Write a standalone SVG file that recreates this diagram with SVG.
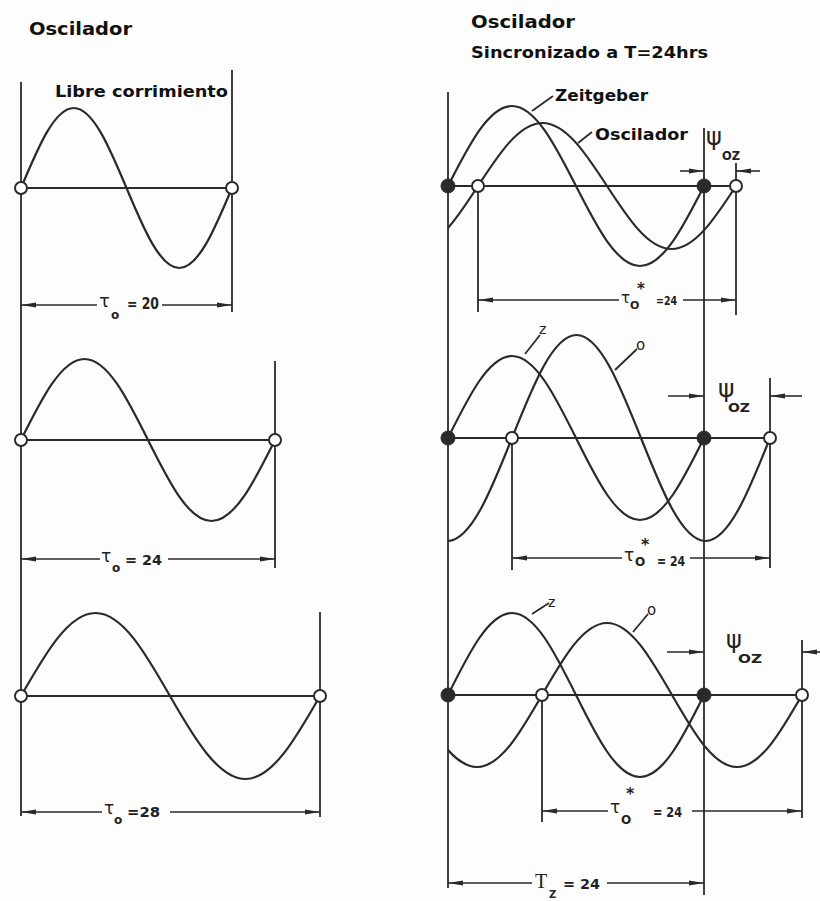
<svg xmlns="http://www.w3.org/2000/svg" width="820" height="901" viewBox="0 0 820 901">
<defs>
<style>
.ln{stroke:#2a2a2a;stroke-width:1.8;fill:none}
.wv{stroke:#2a2a2a;stroke-width:2.2;fill:none;stroke-linejoin:round;stroke-linecap:round}
.oc{fill:#fff;stroke:#2a2a2a;stroke-width:2}
.fc{fill:#2a2a2a;stroke:#2a2a2a;stroke-width:1}
.dim{stroke:#2a2a2a;stroke-width:1.6;fill:none;marker-end:url(#ah)}
.t{font-family:"DejaVu Sans","Liberation Sans",sans-serif;font-weight:bold;fill:#111}
.g{font-family:"DejaVu Sans","Liberation Sans",sans-serif;fill:#222}
.gb{font-family:"DejaVu Sans","Liberation Sans",sans-serif;font-weight:bold;fill:#222}
.sf{font-family:"Liberation Serif","DejaVu Serif",serif;fill:#222}
</style>
<marker id="ah" markerUnits="userSpaceOnUse" markerWidth="16" markerHeight="8" refX="15" refY="4" orient="auto"><path d="M0,1.6 L15,4 L0,6.4 Z" fill="#2a2a2a"/></marker>
<clipPath id="cr"><rect x="448" y="0" width="372" height="901"/></clipPath>
</defs>
<rect x="0" y="0" width="820" height="901" fill="#fdfdfd"/>

<g id="titles">
<text class="t" x="29" y="35" font-size="18" textLength="103" lengthAdjust="spacingAndGlyphs">Oscilador</text>
<text class="t" x="471" y="28" font-size="18" textLength="104" lengthAdjust="spacingAndGlyphs">Oscilador</text>
<text class="t" x="471" y="58" font-size="16.5" textLength="237" lengthAdjust="spacingAndGlyphs">Sincronizado a T=24hrs</text>
</g>

<g id="connectors">
<line class="ln" x1="21" y1="82" x2="21" y2="816"/>
<line class="ln" x1="448" y1="92" x2="448" y2="888"/>
<line class="ln" x1="704" y1="128" x2="704" y2="895"/>
<!-- L1 -->
<line class="ln" x1="232" y1="70" x2="232" y2="312"/>
<line class="ln" x1="21" y1="188" x2="232" y2="188"/>
<line class="dim" x1="97" y1="305" x2="21" y2="305"/>
<line class="dim" x1="162" y1="305" x2="232" y2="305"/>
<!-- L2 -->
<line class="ln" x1="275" y1="361" x2="275" y2="568"/>
<line class="ln" x1="21" y1="440" x2="275" y2="440"/>
<line class="dim" x1="100" y1="559" x2="21" y2="559"/>
<line class="dim" x1="168" y1="559" x2="275" y2="559"/>
<!-- L3 -->
<line class="ln" x1="320" y1="612" x2="320" y2="817"/>
<line class="ln" x1="21" y1="696" x2="320" y2="696"/>
<line class="dim" x1="102" y1="812" x2="21" y2="812"/>
<line class="dim" x1="170" y1="812" x2="320" y2="812"/>
<!-- R1 -->
<line class="ln" x1="448" y1="186" x2="736" y2="186"/>
<line class="ln" x1="478" y1="186" x2="478" y2="312"/>
<line class="ln" x1="736" y1="163" x2="736" y2="315"/>
<line class="dim" x1="619" y1="300" x2="478" y2="300"/>
<line class="dim" x1="683" y1="300" x2="736" y2="300"/>
<line class="dim" x1="680" y1="171" x2="704" y2="171"/>
<line class="dim" x1="760" y1="171" x2="736" y2="171"/>
<line class="ln" x1="532" y1="111" x2="553" y2="96"/>
<line class="ln" x1="578" y1="143" x2="592" y2="132"/>
<!-- R2 -->
<line class="ln" x1="448" y1="438" x2="770" y2="438"/>
<line class="ln" x1="512" y1="438" x2="512" y2="570"/>
<line class="ln" x1="770" y1="378" x2="770" y2="568"/>
<line class="dim" x1="622" y1="558" x2="512" y2="558"/>
<line class="dim" x1="690" y1="558" x2="770" y2="558"/>
<line class="dim" x1="668" y1="396" x2="704" y2="396"/>
<line class="dim" x1="802" y1="396" x2="770" y2="396"/>
<line class="ln" x1="525" y1="354" x2="540" y2="335"/>
<line class="ln" x1="615" y1="370" x2="637" y2="349"/>
<!-- R3 -->
<line class="ln" x1="448" y1="695" x2="802" y2="695"/>
<line class="ln" x1="542" y1="695" x2="542" y2="822"/>
<line class="ln" x1="802" y1="640" x2="802" y2="818"/>
<line class="dim" x1="608" y1="811" x2="542" y2="811"/>
<line class="dim" x1="692" y1="811" x2="802" y2="811"/>
<line class="dim" x1="667" y1="652" x2="704" y2="652"/>
<line class="dim" x1="820" y1="652" x2="802" y2="652"/>
<line class="ln" x1="532" y1="614" x2="549" y2="603"/>
<line class="ln" x1="633" y1="632" x2="648" y2="614"/>
<!-- Tz -->
<line class="dim" x1="532" y1="883" x2="448" y2="883"/>
<line class="dim" x1="607" y1="883" x2="704" y2="883"/>
</g>

<g id="panel-L1">
<path class="wv" d="M21,188 C38.2,147 54.66,108 73.75,108 S109.3,147 126.5,188 S160.16,268 179.25,268 S214.8,229 232,188"/>
<circle class="oc" cx="21" cy="188" r="6"/>
<circle class="oc" cx="232" cy="188" r="6"/>
<text class="t" x="55" y="97" font-size="16.5" textLength="173" lengthAdjust="spacingAndGlyphs">Libre corrimiento</text>
<text class="g" x="99" y="307" font-size="18">τ</text>
<text class="gb" x="111" y="319" font-size="12">o</text>
<text class="gb" x="127" y="309" font-size="15" textLength="32" lengthAdjust="spacingAndGlyphs">= 20</text>
</g>

<g id="panel-L2">
<path class="wv" d="M21,440 C41.71,398.5 61.52,359 84.5,359 S127.29,398.5 148,440 S188.52,521 211.5,521 S254.29,481.5 275,440"/>
<circle class="oc" cx="21" cy="440" r="6"/>
<circle class="oc" cx="275" cy="440" r="6"/>
<text class="g" x="101" y="562" font-size="17">τ</text>
<text class="gb" x="112" y="572" font-size="12">o</text>
<text class="gb" x="125" y="565" font-size="14" textLength="37" lengthAdjust="spacingAndGlyphs">= 24</text>
</g>

<g id="panel-L3">
<path class="wv" d="M21,696 C45.29,653.5 68.54,613 95.5,613 S145.71,653.5 170,696 S218.54,779 245.5,779 S295.71,738.5 320,696"/>
<circle class="oc" cx="21" cy="696" r="6"/>
<circle class="oc" cx="320" cy="696" r="6"/>
<text class="g" x="104" y="814" font-size="17">τ</text>
<text class="gb" x="114" y="824" font-size="12">o</text>
<text class="gb" x="127" y="817" font-size="14" textLength="33" lengthAdjust="spacingAndGlyphs">=28</text>
</g>

<g id="panel-R1">
<path class="wv" d="M448,186 C468.87,145 488.84,106 512,106 S555.13,145 576,186 S616.84,266 640,266 S683.13,227 704,186"/>
<path class="wv" clip-path="url(#cr)" d="M413.5,249 C436.84,249 456.97,218.3 478,186 S519.16,123 542.5,123 S585.97,153.7 607,186 S648.16,249 671.5,249 S714.97,218.3 736,186"/>
<circle class="fc" cx="448" cy="186" r="7"/>
<circle class="fc" cx="704" cy="186" r="7"/>
<circle class="oc" cx="478" cy="186" r="6"/>
<circle class="oc" cx="736" cy="186" r="6"/>
<text class="t" x="555" y="101" font-size="16" textLength="93" lengthAdjust="spacingAndGlyphs">Zeitgeber</text>
<text class="t" x="595" y="140" font-size="16" textLength="93" lengthAdjust="spacingAndGlyphs">Oscilador</text>
<text class="g" x="706" y="145" font-size="24">ψ</text>
<text class="gb" x="722" y="160" font-size="12" textLength="18" lengthAdjust="spacingAndGlyphs">OZ</text>
<text class="g" x="621" y="303" font-size="15">τ</text>
<text class="gb" x="630" y="309" font-size="11">O</text>
<text class="gb" x="637" y="294" font-size="15">*</text>
<text class="gb" x="656" y="305" font-size="13" textLength="21" lengthAdjust="spacingAndGlyphs">=24</text>
</g>

<g id="panel-R2">
<path class="wv" d="M448,438 C468.87,396 488.84,356 512,356 S555.13,396 576,438 S616.84,520 640,520 S683.13,480 704,438"/>
<path class="wv" clip-path="url(#cr)" d="M447.5,541 C470.84,541 490.97,490.8 512,438 S553.16,335 576.5,335 S619.97,385.2 641,438 S682.16,541 705.5,541 S748.97,490.8 770,438"/>
<circle class="fc" cx="448" cy="438" r="7"/>
<circle class="fc" cx="704" cy="438" r="7"/>
<circle class="oc" cx="512" cy="438" r="6"/>
<circle class="oc" cx="770" cy="438" r="6"/>
<text class="g" x="539" y="334" font-size="14">z</text>
<text class="g" x="636" y="350" font-size="15">o</text>
<text class="g" x="718" y="397" font-size="25">ψ</text>
<text class="gb" x="728" y="412" font-size="13" textLength="22" lengthAdjust="spacingAndGlyphs">OZ</text>
<text class="g" x="624" y="561" font-size="17">τ</text>
<text class="gb" x="635" y="566" font-size="12">O</text>
<text class="gb" x="641" y="550" font-size="16">*</text>
<text class="gb" x="657" y="566" font-size="14" textLength="28" lengthAdjust="spacingAndGlyphs">= 24</text>
</g>

<g id="panel-R3">
<path class="wv" d="M448,695 C468.87,653 488.84,613 512,613 S555.13,653 576,695 S616.84,777 640,777 S683.13,737 704,695"/>
<path class="wv" clip-path="url(#cr)" d="M412,695 C433.2,731.9 453.48,767 477,767 S520.8,731.9 542,695 S583.48,623 607,623 S650.8,658.1 672,695 S713.48,767 737,767 S780.8,731.9 802,695"/>
<circle class="fc" cx="448" cy="695" r="7"/>
<circle class="fc" cx="704" cy="695" r="7"/>
<circle class="oc" cx="542" cy="695" r="6"/>
<circle class="oc" cx="802" cy="695" r="6"/>
<text class="g" x="548" y="607" font-size="14">z</text>
<text class="g" x="647" y="615" font-size="15">o</text>
<text class="g" x="726" y="648" font-size="24">ψ</text>
<text class="gb" x="738" y="663" font-size="13" textLength="24" lengthAdjust="spacingAndGlyphs">OZ</text>
<text class="g" x="610" y="813" font-size="17">τ</text>
<text class="gb" x="621" y="824" font-size="12">O</text>
<text class="gb" x="626" y="799" font-size="16">*</text>
<text class="gb" x="653" y="817" font-size="14" textLength="29" lengthAdjust="spacingAndGlyphs">= 24</text>
<text class="sf" x="535" y="888" font-size="20">T</text>
<text class="gb" x="549" y="898" font-size="10">Z</text>
<text class="gb" x="563" y="889" font-size="14" textLength="37" lengthAdjust="spacingAndGlyphs">= 24</text>
</g>
</svg>
